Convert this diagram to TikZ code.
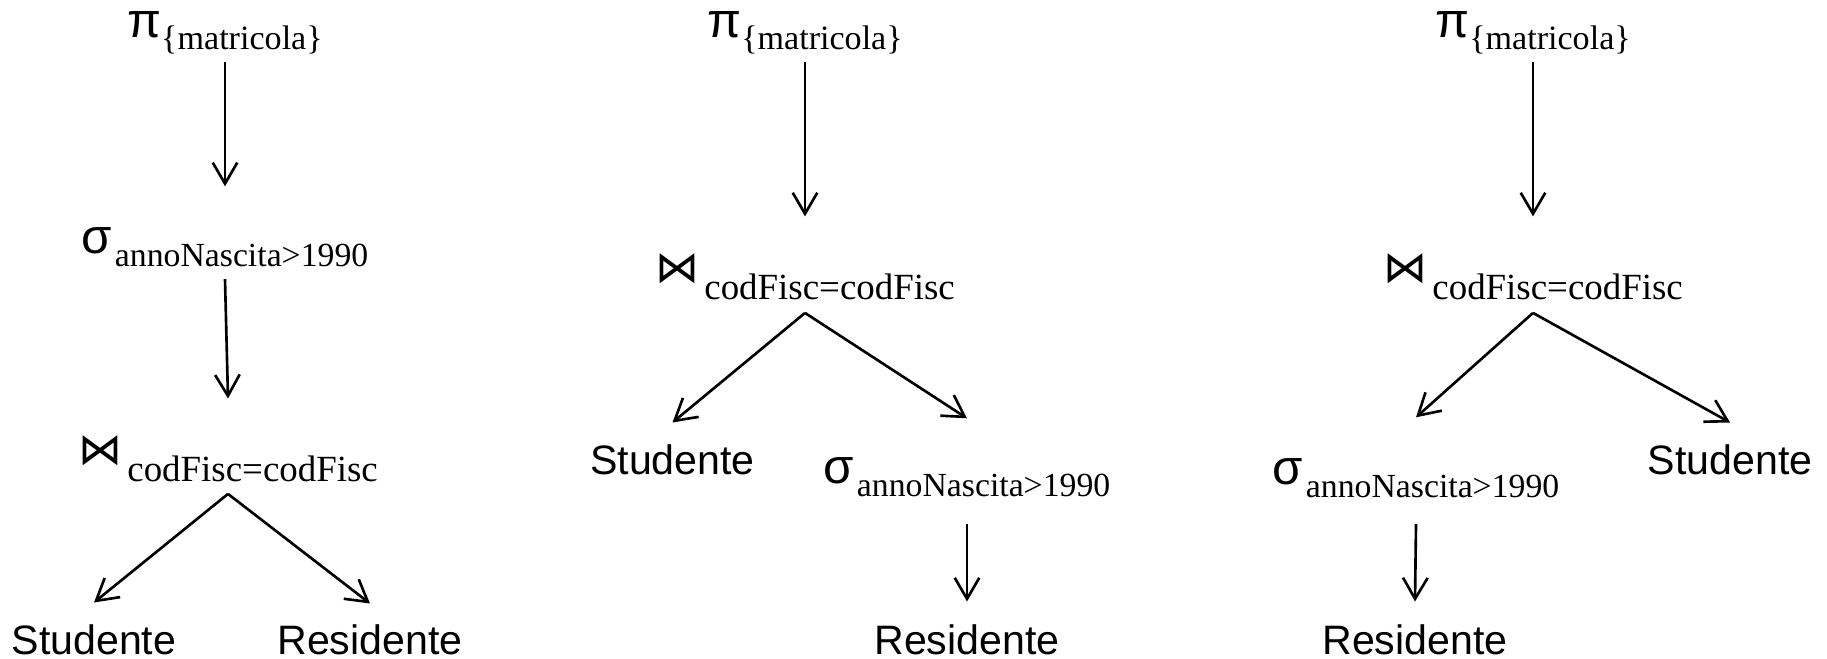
\documentclass[tikz,border=0pt]{standalone}
\usepackage{fontspec}
\usepackage{tikz}
\usetikzlibrary{arrows.meta}
\setmainfont{Liberation Serif}
\setsansfont{Liberation Sans}
\newfontfamily\opfont{DejaVu Sans}

% relation names and algebra operators with their subscripts
\newcommand{\relname}[1]{{\sffamily\fontsize{11.7}{14}\selectfont #1}}
\newcommand{\projop}[1]{{\sffamily\fontsize{14}{16}\selectfont π}\raisebox{-3.4pt}{\fontsize{9.7}{12}\selectfont\{#1\}}}
\newcommand{\selop}[1]{{\sffamily\fontsize{14}{16}\selectfont σ}\hspace{0.8pt}\raisebox{-3.7pt}{\fontsize{9.6}{12}\selectfont #1}}
\newcommand{\joinop}[1]{{\opfont\fontsize{12.5}{14}\selectfont ⋈}\hspace{1.5pt}\raisebox{-4.8pt}{\fontsize{10.5}{12}\selectfont #1}}

\begin{document}
\begin{tikzpicture}[
    every node/.style={inner sep=0pt, anchor=base},
    edge/.style={-{Straight Barb[length=6pt,width=7pt]}, line width=0.75pt}
  ]
  \useasboundingbox (0,0) rectangle (18.27,-6.59);

  % Tree 1: selection above the join
  \node (p1) at (2.25,-0.38) {\projop{matricola}};
  \node (s1) at (2.25,-2.54) {\selop{annoNascita>1990}};
  \node (j1) at (2.28,-4.65) {\joinop{codFisc=codFisc}};
  \node (st1) at (0.94,-6.55) {\relname{Studente}};
  \node (r1) at (3.70,-6.55) {\relname{Residente}};

  % Tree 2: selection pushed down on the right
  \node (p2) at (8.05,-0.38) {\projop{matricola}};
  \node (j2) at (8.05,-2.83) {\joinop{codFisc=codFisc}};
  \node (st2) at (6.725,-4.75) {\relname{Studente}};
  \node (s2) at (9.67,-4.84) {\selop{annoNascita>1990}};
  \node (r2) at (9.67,-6.55) {\relname{Residente}};

  % Tree 3: selection pushed down on the left
  \node (p3) at (15.33,-0.38) {\projop{matricola}};
  \node (j3) at (15.33,-2.83) {\joinop{codFisc=codFisc}};
  \node (s3) at (14.16,-4.85) {\selop{annoNascita>1990}};
  \node (st3) at (17.30,-4.75) {\relname{Studente}};
  \node (r3) at (14.15,-6.55) {\relname{Residente}};

  % Edges
  \draw[edge] ([yshift=-0.7mm]p1.south) -- ([yshift=4.1mm]s1.north);
  \draw[edge] ([yshift=-1.1mm]s1.south) -- ([yshift=3.7mm]j1.north);
  \draw[edge] ([yshift=-1.1mm]j1.south) -- ([yshift=2.2mm]st1.north);
  \draw[edge] ([yshift=-1.1mm]j1.south) -- ([yshift=2.1mm]r1.north);

  \draw[edge] ([yshift=-0.7mm]p2.south) -- ([yshift=3.7mm]j2.north);
  \draw[edge] ([yshift=-1.2mm]j2.south) -- ([yshift=2.2mm]st2.north);
  \draw[edge] ([yshift=-1.2mm]j2.south) -- ([yshift=3.9mm]s2.north);
  \draw[edge] ([yshift=-2.6mm]s2.south) -- ([yshift=2.3mm]r2.north);

  \draw[edge] ([yshift=-0.7mm]p3.south) -- ([yshift=3.7mm]j3.north);
  \draw[edge] ([yshift=-1.2mm]j3.south) -- ([yshift=4.1mm]s3.north);
  \draw[edge] ([yshift=-1.2mm]j3.south) -- ([yshift=2.2mm]st3.north);
  \draw[edge] ([yshift=-2.5mm]s3.south) -- ([yshift=2.3mm]r3.north);
\end{tikzpicture}
\end{document}
